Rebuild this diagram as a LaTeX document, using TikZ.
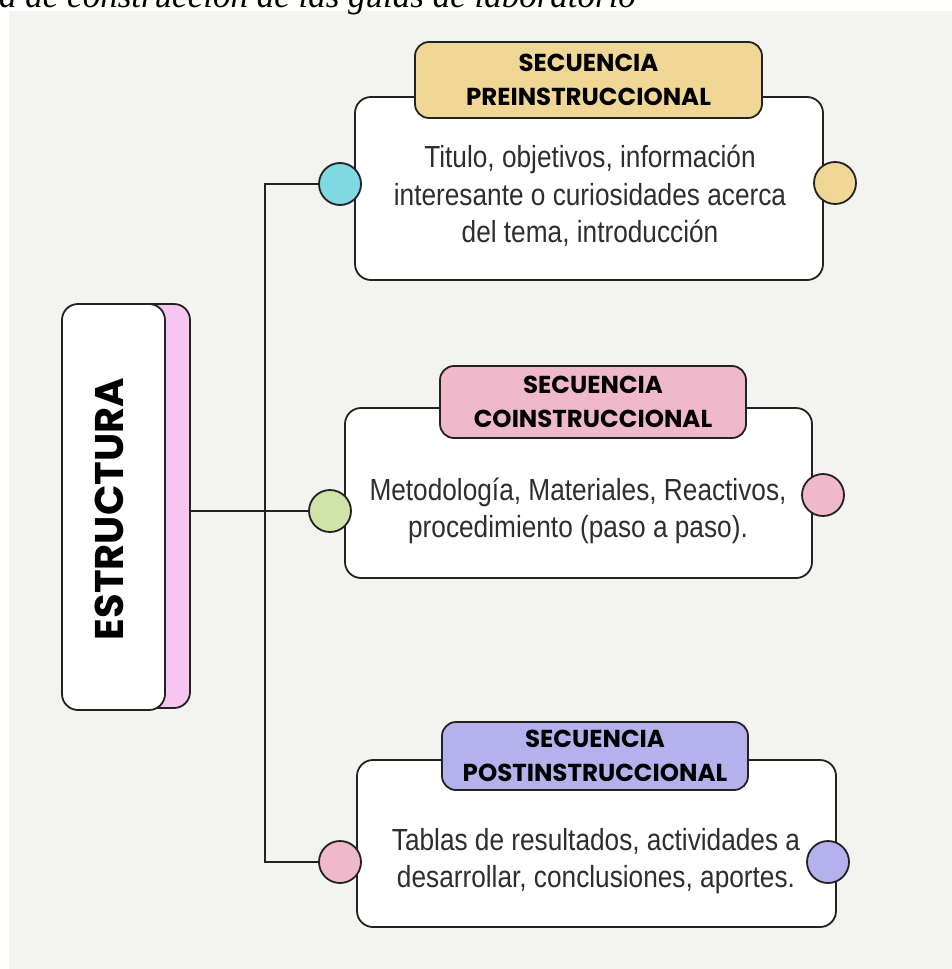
\documentclass[tikz,border=0pt]{standalone}
\usepackage{fontspec}
\setmainfont{Liberation Serif}
\newfontfamily\bodyfont[FakeStretch=0.86]{Liberation Sans}
\newfontfamily\headfont{Poppins}
\definecolor{bggray}{HTML}{F3F3F0}
\definecolor{lineK}{HTML}{222222}
\definecolor{textK}{HTML}{2E2E2E}
\definecolor{tanC}{HTML}{F0D796}
\definecolor{cyanC}{HTML}{80D8E2}
\definecolor{pinkC}{HTML}{F0B9CB}
\definecolor{greenC}{HTML}{CFE4A8}
\definecolor{purpleC}{HTML}{B4B1EC}
\definecolor{shadowC}{HTML}{F6C6F0}
\begin{document}
\begin{tikzpicture}[x=1pt,y=-1pt,
  box/.style={draw=lineK, line width=1.8pt, fill=white, rounded corners=16pt, inner sep=0pt},
  header/.style={draw=lineK, line width=1.8pt, rounded corners=14pt, inner sep=0pt, align=center,
     font=\headfont\bfseries\fontsize{24.5}{34}\selectfont, text=black},
  bodytext/.style={align=center, inner sep=0pt, text=textK, font=\bodyfont\fontsize{30.5}{37.5}\selectfont},
  dot/.style={circle, draw=lineK, line width=1.8pt, minimum size=42pt, inner sep=0pt},
  link/.style={draw=lineK, line width=1.8pt}
]
\useasboundingbox (0,0) rectangle (952,969);
\fill[bggray] (9,11) rectangle (952,969);
\node[anchor=base west, inner sep=0pt, font=\fontsize{35}{40}\selectfont\itshape] (cap) at (-1,7) {a de construcción de las guías de laboratorio};

% left block
\node[box, fill=shadowC, minimum width=105pt, minimum height=404pt] (estshadow) at (137.5,506) {};
\node[box, minimum width=103pt, minimum height=406pt] (est) at (113.5,507) {};
\node[rotate=90, font=\headfont\bfseries\fontsize{40}{40}\selectfont] (esttext) at (109,509) {ESTRUCTURA};

% boxes
\node[box, minimum width=468pt, minimum height=183pt] (b1) at (589,188.5) {};
\node[box, minimum width=467pt, minimum height=170pt] (b2) at (578.5,493) {};
\node[box, minimum width=479pt, minimum height=167pt] (b3) at (596.5,843.5) {};

\node[header, fill=tanC, minimum width=347pt, minimum height=76pt] (h1) at (588.5,80) {SECUENCIA\\PREINSTRUCCIONAL};
\node[header, fill=pinkC, minimum width=306pt, minimum height=72pt] (h2) at (593,402) {SECUENCIA\\COINSTRUCCIONAL};
\node[header, fill=purpleC, minimum width=306pt, minimum height=68pt] (h3) at (595,756) {SECUENCIA\\POSTINSTRUCCIONAL};

\node[bodytext] (t1) at (590,196) {Titulo, objetivos, información\\interesante o curiosidades acerca\\del tema, introducción};
\node[bodytext] (t2) at (578,511) {Metodología, Materiales, Reactivos,\\procedimiento (paso a paso).};
\node[bodytext] (t3) at (596,861) {Tablas de resultados, actividades a\\desarrollar, conclusiones, aportes.};

% circles
\node[dot, fill=cyanC] (c1l) at (340,184) {};
\node[dot, fill=tanC] (c1r) at (835,183) {};
\node[dot, fill=greenC] (c2l) at (330,511) {};
\node[dot, fill=pinkC] (c2r) at (823,495) {};
\node[dot, fill=pinkC] (c3l) at (340,862) {};
\node[dot, fill=purpleC] (c3r) at (828,862) {};

% connectors
\coordinate (jt) at (265,184);
\coordinate (jb) at (265,862);
\draw[link] (c1l.west) -- (jt) -- (jb) -- (c3l.west);
\draw[link] (estshadow.east |- c2l.west) -- (c2l.west);
\end{tikzpicture}
\end{document}
